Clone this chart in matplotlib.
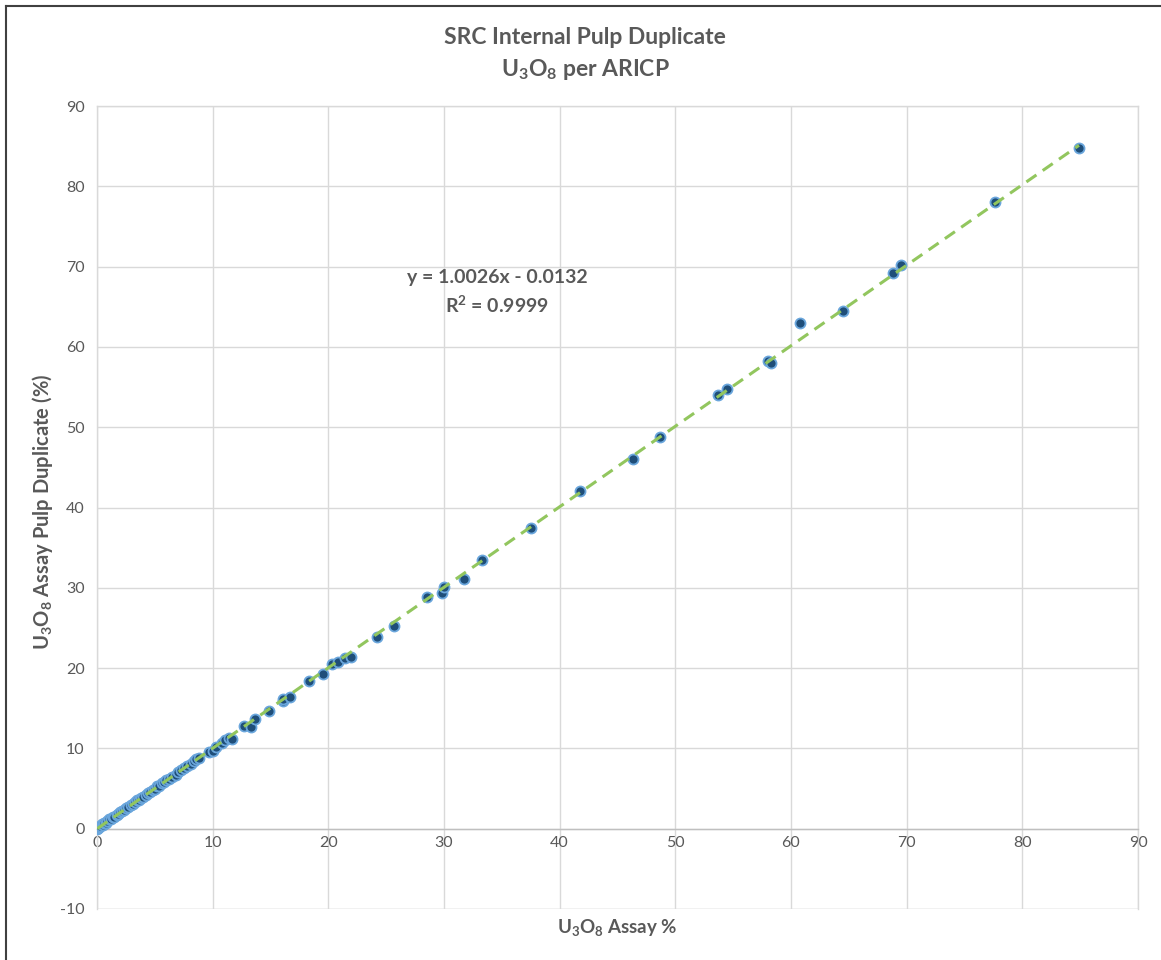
import matplotlib
matplotlib.use("Agg")
import matplotlib.pyplot as plt
from matplotlib.lines import Line2D
import numpy as np

plt.rcParams['font.family'] = ['Lato', 'DejaVu Sans']
plt.rcParams['mathtext.fontset'] = 'custom'
plt.rcParams['mathtext.rm'] = 'Lato'
plt.rcParams['mathtext.bf'] = 'Lato:bold'
plt.rcParams['mathtext.it'] = 'Lato:italic'
plt.rcParams['axes.unicode_minus'] = False

# Data (U3O8 assay % vs pulp duplicate %)
assay = [0.02, 0.05, 0.1, 0.15, 0.2, 0.3, 0.4, 0.5, 0.6, 0.75, 0.9, 1.0, 1.2, 1.35,
         1.5, 1.7, 1.85, 2.0, 2.2, 2.35, 2.5, 2.7, 2.9, 3.1, 3.3, 3.5, 3.6, 3.8, 4.0,
         4.2, 4.4, 4.6, 4.8, 5.0, 5.2, 5.4, 5.6, 5.8, 6.0, 6.2, 6.5, 6.8, 7.0, 7.3,
         7.5, 7.8, 8.1, 8.4, 8.6, 8.8, 9.7, 10.0, 10.3, 10.8, 11.1, 11.4, 11.7,
         12.7, 13.3, 13.7, 14.9, 16.1, 16.1, 16.7, 18.3, 19.5, 20.3, 20.8, 21.4,
         22.0, 24.2, 25.7, 28.5, 29.8, 30.0, 31.7, 33.3, 37.5, 41.8, 46.3, 48.7,
         53.7, 54.5, 58.0, 58.3, 60.8, 64.5, 68.8, 69.5, 77.6, 84.9]
duplicate = [0.0, 0.1, 0.05, 0.2, 0.15, 0.35, 0.6, 0.5, 0.65, 0.7, 1.0, 1.2, 1.15, 1.4,
             1.5, 1.75, 1.8, 2.05, 2.2, 2.3, 2.55, 2.7, 2.9, 3.05, 3.35, 3.6, 3.55,
             3.85, 4.0, 4.15, 4.45, 4.6, 4.85, 5.0, 5.3, 5.35, 5.7, 5.8, 6.1, 6.15,
             6.5, 6.7, 7.1, 7.25, 7.55, 7.85, 8.1, 8.4, 8.7, 8.8, 9.6, 9.7, 10.2,
             10.7, 11.1, 11.3, 11.2, 12.8, 12.7, 13.7, 14.7, 15.9, 16.2, 16.4, 18.4,
             19.3, 20.5, 20.7, 21.2, 21.4, 23.9, 25.3, 28.9, 29.4, 30.1, 31.1, 33.5,
             37.5, 42.0, 46.1, 48.8, 54.0, 54.8, 58.2, 58.0, 63.0, 64.5, 69.2, 70.2,
             78.0, 84.8]

slope = 1.0026
intercept = -0.0132
r2 = 0.9999

x_ticks = [0, 10, 20, 30, 40, 50, 60, 70, 80, 90]
y_ticks = [-10, 0, 10, 20, 30, 40, 50, 60, 70, 80, 90]

W, H = 1161, 960
fig = plt.figure(figsize=(W / 100, H / 100), dpi=100)
fig.patch.set_facecolor('white')

left, right, top, bottom = 97, 1138, 106, 909
ax = fig.add_axes([left / W, (H - bottom) / H, (right - left) / W, (bottom - top) / H])

grid_c = '#d9d9d9'
txt_c = '#595959'

ax.set_xlim(0, 90)
ax.set_ylim(-10, 90)
ax.set_xticks(x_ticks)
ax.set_yticks(y_ticks)
ax.grid(True, color=grid_c, linewidth=1.0)
ax.set_axisbelow(True)
for s in ['left', 'right', 'top']:
    ax.spines[s].set_color(grid_c)
    ax.spines[s].set_linewidth(1.0)
ax.spines['bottom'].set_position(('data', 0))
ax.spines['bottom'].set_color('#bfbfbf')
ax.spines['bottom'].set_linewidth(1.0)
ax.axhline(-10, color=grid_c, linewidth=1.0, zorder=0)
ax.tick_params(axis='both', length=0, labelsize=11.5, labelcolor=txt_c)
ax.tick_params(axis='x', pad=5)
ax.tick_params(axis='y', pad=9)

ax.scatter(assay, duplicate, s=52, color='#1f4e79', edgecolors='#6aa6dc',
           linewidths=1.3, zorder=3)

xl = np.array([min(assay), max(assay)])
ax.plot(xl, slope * xl + intercept, color='#92c65e', linewidth=2.2,
        linestyle=(0, (4, 2.5)), zorder=4)

ax.text((497 - left) / (right - left), 1 - (277 - top) / (bottom - top),
        f'y = {slope:.4f}x - {abs(intercept):.4f}', transform=ax.transAxes,
        ha='center', va='center', fontsize=14, fontweight='bold', color=txt_c)
ax.text((497 - left) / (right - left), 1 - (305 - top) / (bottom - top),
        r'R$^\mathbf{2}$' + f' = {r2:.4f}', transform=ax.transAxes,
        ha='center', va='center', fontsize=14, fontweight='bold', color=txt_c)

fig.text(585 / W, 1 - 38 / H, 'SRC Internal Pulp Duplicate', ha='center', va='center',
         fontsize=16.5, fontweight='bold', color=txt_c)
fig.text(585 / W, 1 - 70 / H, r'U$_\mathbf{3}$O$_\mathbf{8}$ per ARICP', ha='center',
         va='center', fontsize=16.5, fontweight='bold', color=txt_c)

fig.text(617 / W, 1 - 928 / H, r'U$_\mathbf{3}$O$_\mathbf{8}$ Assay %', ha='center',
         va='center', fontsize=13.5, fontweight='bold', color=txt_c)
fig.text(43 / W, 1 - 512 / H, r'U$_\mathbf{3}$O$_\mathbf{8}$ Assay Pulp Duplicate (%)',
         ha='center', va='center', rotation=90, fontsize=14.5, fontweight='bold',
         color=txt_c)

# outer frame (left and top edges visible)
fig.add_artist(Line2D([6 / W, 6 / W], [0, 1 - 6 / H], transform=fig.transFigure,
                      color='#404040', linewidth=1.5))
fig.add_artist(Line2D([6 / W, 1], [1 - 6 / H, 1 - 6 / H], transform=fig.transFigure,
                      color='#404040', linewidth=1.5))

fig.savefig('out.png', dpi=100, facecolor='white')
